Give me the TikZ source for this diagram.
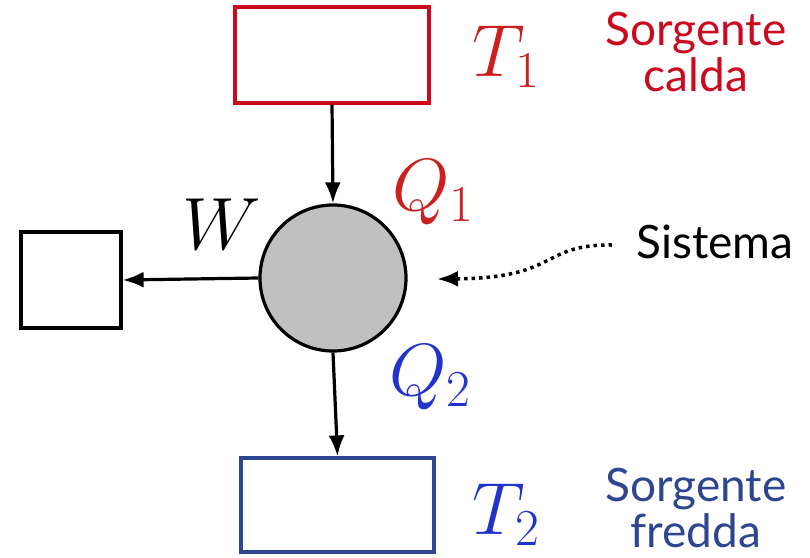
\RequirePackage{fix-cm}
\documentclass[tikz,border=0pt]{standalone}
\usepackage{fontspec}
\newfontfamily\lato{Lato}
\usetikzlibrary{arrows.meta}
\definecolor{hotred}{HTML}{CC0A1E}
\definecolor{mathred}{HTML}{CC2020}
\definecolor{coldblue}{HTML}{2E4690}
\definecolor{mathblue}{HTML}{2233CC}
\definecolor{sysgray}{HTML}{C0C0C0}
\tikzset{
  box/.style={draw, line width=3.2pt, inner sep=0pt},
  arr/.style={line width=3.2pt, -{Latex[length=21pt,width=16pt]}},
  dotarr/.style={line width=3.5pt, dash pattern=on 3.5pt off 4pt, -{Latex[length=21pt,width=16pt]}},
  mathlbl/.style={inner sep=0pt, font=\fontsize{74}{80}\selectfont},
  txt/.style={inner sep=0pt, align=center, font=\lato\fontsize{46}{46}\selectfont},
}
\begin{document}
\begin{tikzpicture}[x=1pt,y=-1pt]
\useasboundingbox (0,0) rectangle (810,557);
\node[box, draw=hotred, minimum width=194pt, minimum height=96pt] (hot) at (332,55) {};
\node[box, draw=coldblue, minimum width=193pt, minimum height=94pt] (cold) at (337.5,505) {};
\node[box, draw=black, minimum width=100pt, minimum height=96pt] (work) at (71,280) {};
\node[circle, draw=black, fill=sysgray, line width=3.2pt, minimum size=146pt, inner sep=0pt] (sys) at (333,278) {};
\draw[arr] (hot.south) -- (sys.north);
\draw[arr] (sys.south) -- (cold.north);
\draw[arr] (sys.west) -- (work.east);
\node[mathlbl, text=mathred] (t1) at (506,57) {$T_1$};
\node[mathlbl, text=mathred] (q1) at (433,192) {$Q_1$};
\node[mathlbl, text=black] (w) at (222,224) {$W$};
\node[mathlbl, text=mathblue] (q2) at (430,377) {$Q_2$};
\node[mathlbl, text=mathblue] (t2) at (506,515) {$T_2$};
\node[txt, text=hotred] (calda) at (696,52) {Sorgente\\calda};
\node[txt, text=coldblue] (fredda) at (696,508) {Sorgente\\fredda};
\node[txt, text=black] (sist) at (715,242) {Sistema};
\coordinate (dstart) at (612,245);
\coordinate (dend) at (437,279);
\draw[dotarr] (dstart) .. controls (540,244) and (560,278) .. (dend);
\end{tikzpicture}
\end{document}
